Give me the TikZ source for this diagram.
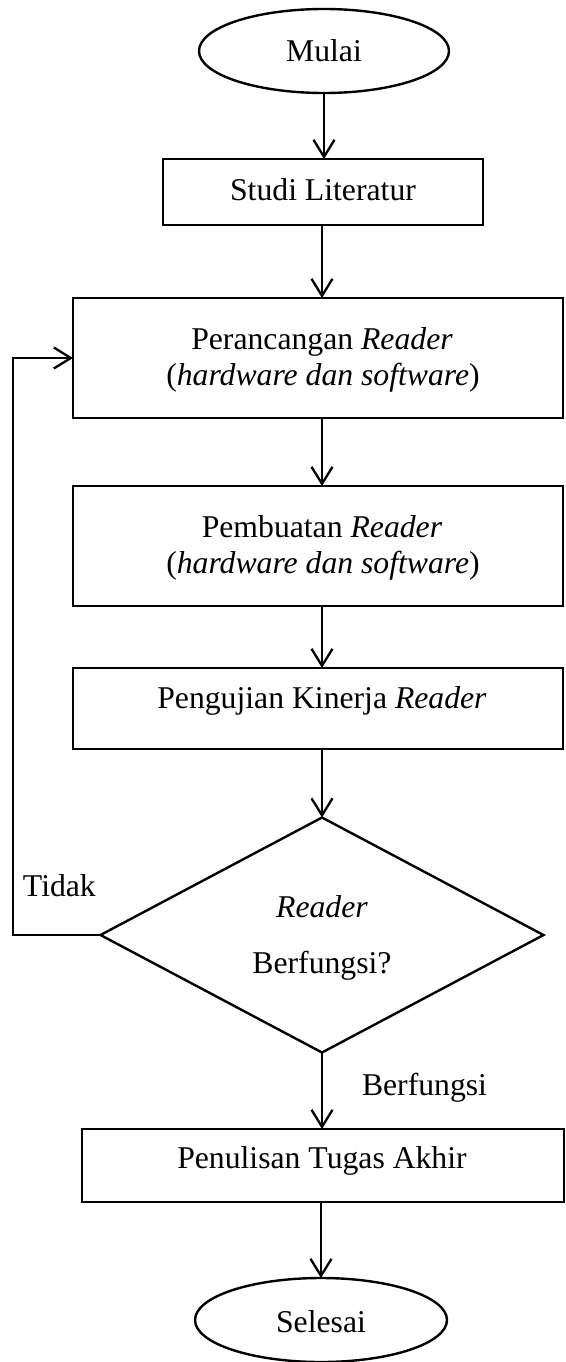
\documentclass[tikz,border=0pt]{standalone}
\usepackage{fontspec}
\setmainfont{Liberation Serif}
\usetikzlibrary{shapes.geometric,arrows.meta}
\begin{document}
\begin{tikzpicture}[x=1pt,y=-1pt,
  every node/.style={inner sep=0pt,outer sep=0pt},
  lbl/.style={font=\fontsize{31.7pt}{36pt}\selectfont,anchor=base},
  frame/.style={draw,line width=2.4pt},
  procbox/.style={frame,rectangle,minimum width=#1},
  terminal/.style={frame,ellipse,minimum height=84pt,minimum width=#1},
  arr/.style={line width=2.3pt,-{Straight Barb[length=17pt,width=21pt]}},
  link/.style={line width=2.3pt}]
\useasboundingbox (0,0) rectangle (565,1362);

\coordinate (spine) at (322,0);
\coordinate (lp) at (13,0);

% terminals
\node[terminal=250pt] (mulai) at (324,51) {};
\node[lbl] (tmulai) at (324,62) {Mulai};
\node[terminal=252pt] (selesai) at (321,1320) {};
\node[lbl] (tselesai) at (321,1332) {Selesai};

% process boxes
\node[procbox=320pt,minimum height=66pt] (studi) at (323,192) {};
\node[lbl] (tstudi) at (323,200) {Studi Literatur};

\node[procbox=490pt,minimum height=120pt] (per) at (318,358) {};
\node[lbl] (tper1) at (322,349) {Perancangan \textit{Reader}};
\node[lbl] (tper2) at (323,385) {(\textit{hardware dan software})};

\node[procbox=490pt,minimum height=120pt] (pem) at (318,546) {};
\node[lbl] (tpem1) at (322,537) {Pembuatan \textit{Reader}};
\node[lbl] (tpem2) at (323,573) {(\textit{hardware dan software})};

\node[procbox=490pt,minimum height=81pt] (uji) at (318,708.5) {};
\node[lbl] (tuji) at (322,708) {Pengujian Kinerja \textit{Reader}};

% decision
\node[frame,diamond,minimum width=443pt,minimum height=235pt] (dec) at (322,935) {};
\node[lbl] (tdec1) at (322,917) {\textit{Reader}};
\node[lbl] (tdec2) at (322,973) {Berfungsi?};

\node[procbox=482pt,minimum height=73pt] (tulis) at (323,1165.5) {};
\node[lbl] (ttulis) at (322,1168) {Penulisan Tugas Akhir};

% branch labels
\node[lbl,anchor=base west] (ltidak) at (23,896) {Tidak};
\node[lbl,anchor=base west] (lya) at (362,1095) {Berfungsi};

% connectors
\draw[arr] (mulai.south) -- (mulai.south |- studi.north);
\draw[arr] (studi.south -| spine) -- (per.north -| spine);
\draw[arr] (per.south -| spine) -- (pem.north -| spine);
\draw[arr] (pem.south -| spine) -- (uji.north -| spine);
\draw[arr] (uji.south -| spine) -- (dec.north);
\draw[arr] (dec.south) -- (tulis.north -| dec.south);
\draw[arr] (tulis.south -| selesai.north) -- (selesai.north);
\draw[arr] (dec.west) -| (lp |- per.west) -- (per.west);
\end{tikzpicture}
\end{document}
